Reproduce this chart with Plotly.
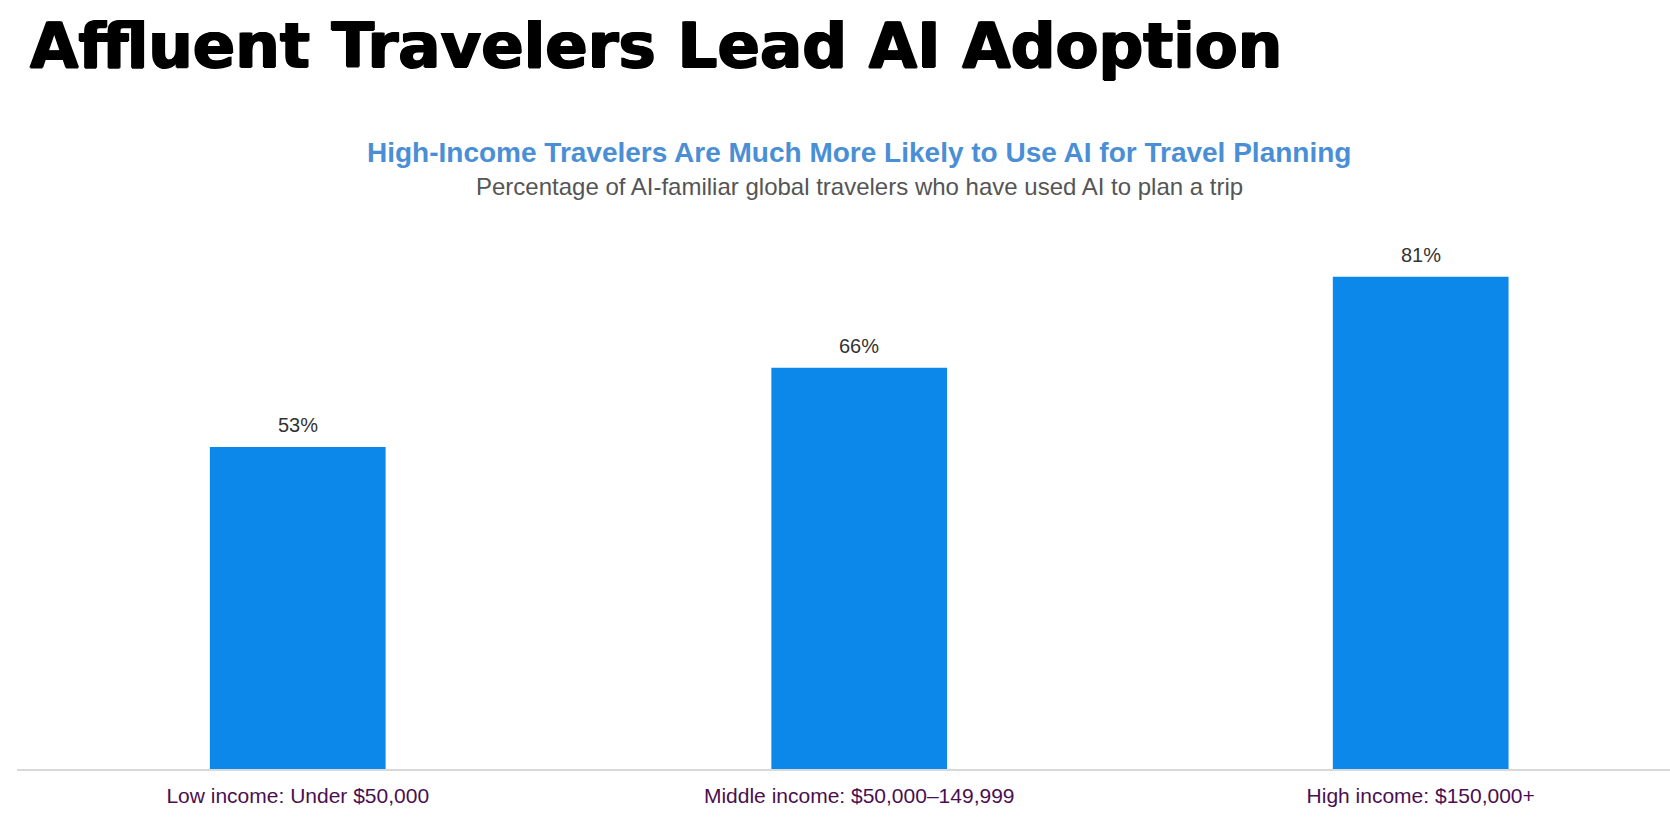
import plotly.graph_objects as go

# income groups and share who used AI to plan a trip (%)
categories = ["Low income: Under $50,000", "Middle income: $50,000–149,999", "High income: $150,000+"]
values = [53, 66, 81]
value_labels = ["53%", "66%", "81%"]

main_title = "Affluent Travelers Lead AI Adoption"
chart_title = "High-Income Travelers Are Much More Likely to Use AI for Travel Planning"
chart_subtitle = "Percentage of AI-familiar global travelers who have used AI to plan a trip"

fig = go.Figure()

fig.add_trace(go.Bar(
    x=categories,
    y=values,
    width=0.313,
    marker=dict(color="#0c88ea", line=dict(width=0)),
    hoverinfo="x+y",
))

# value labels above bars
for cat, val, lab in zip(categories, values, value_labels):
    fig.add_annotation(
        x=cat, y=val, text=lab, showarrow=False,
        yanchor="bottom", yshift=9,
        font=dict(family="Liberation Sans, Arial, sans-serif", size=20, color="#333333"),
    )

fig.add_annotation(
    xref="paper", yref="paper", x=0.5096, y=1, yanchor="middle", yshift=70,
    text="<b>" + chart_title + "</b>", showarrow=False,
    font=dict(family="Liberation Sans, Arial, sans-serif", size=28, color="#4a8fd6"),
)
fig.add_annotation(
    xref="paper", yref="paper", x=0.5096, y=1, yanchor="middle", yshift=36,
    text=chart_subtitle, showarrow=False,
    font=dict(family="Liberation Sans, Arial, sans-serif", size=24, color="#555555"),
)

fig.update_layout(
    width=1670,
    height=834,
    paper_bgcolor="white",
    plot_bgcolor="white",
    showlegend=False,
    margin=dict(l=17, r=0, t=222, b=65),
    title=dict(
        text="<b>" + main_title + "</b>",
        font=dict(family="DejaVu Sans, sans-serif", size=62.6, color="black",
                  shadow="1px 0px 0px black, -1px 0px 0px black, 0px 1px 0px black"),
        x=30 / 1670, xanchor="left", xref="container",
        y=1 - 45.5 / 834, yanchor="middle", yref="container",
    ),
    xaxis=dict(
        type="category",
        range=[-0.5, 2.444],
        showline=True, linecolor="#d9d9d9", linewidth=2,
        showgrid=False, zeroline=False,
        ticks="outside", ticklen=7, tickcolor="rgba(0,0,0,0)",
        tickfont=dict(family="Liberation Sans, Arial, sans-serif", size=21, color="#4b0f50"),
    ),
    yaxis=dict(
        range=[0, 90],
        visible=False,
        showgrid=False, zeroline=False,
    ),
)

# drop the default page margin so the figure fills the window exactly
fig.write_html("out.html", config={"displayModeBar": False},
               post_script="document.body.style.margin = '0';")
